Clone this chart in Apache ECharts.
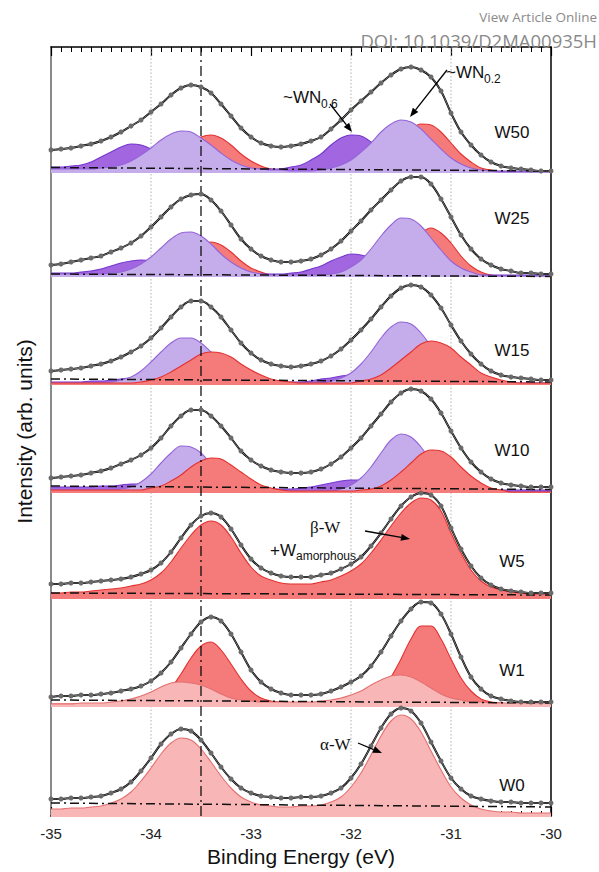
<!DOCTYPE html>
<html><head><meta charset="utf-8">
<script src="https://cdn.jsdelivr.net/npm/echarts@6/dist/echarts.min.js"></script>
<style>html,body{margin:0;padding:0;background:#fff;}#c{width:599px;height:872px;}</style>
</head><body><div id="c"></div>
<script>
// ---------------- DATA ----------------
const energy = [-35.0,-34.9,-34.8,-34.7,-34.6,-34.5,-34.4,-34.3,-34.2,-34.1,-34.0,-33.9,-33.8,-33.7,-33.6,-33.5,-33.4,-33.3,-33.2,-33.1,-33.0,-32.9,-32.8,-32.7,-32.6,-32.5,-32.4,-32.3,-32.2,-32.1,-32.0,-31.9,-31.8,-31.7,-31.6,-31.5,-31.4,-31.3,-31.2,-31.1,-31.0,-30.9,-30.8,-30.7,-30.6,-30.5,-30.4,-30.3,-30.2,-30.1,-30.0];
const panelNames = ['W50','W25','W15','W10','W5','W1','W0'];
const bgStart = [5.5, 3, 6, 7, 6, 7, 14];
const bgEnd   = [2, 0.5, 3, 3.5, 4, 4, 10];
const refDotted = [-34, -32, -31];
const refDashDot = [-33.5];

const W50_measured = [23,24,25,27,29,32,36,41,47,53,61,69,78,85,88,86,80,69,57,45,36,30,27,26,27,29,32,36,44,53,63,72,81,90,98,104,106,103,96,82,60,41,28,18,11,7,5,4,3,2,2];
const W50_wn06 = [6,6,7,8,11,16,21,26,29,28,24,18,13,9,7,5,4,4,4,4,4,4,4,4,6,8,13,19,28,35,38,37,31,22,15,9,6,4,3,3,3,3,3,2,2,2,2,2,2,2,2];
const W50_wn02 = [4,4,4,4,4,5,6,8,12,18,25,33,39,42,41,35,28,20,13,8,5,4,3,3,2,2,2,3,5,8,13,21,30,41,49,53,51,44,34,24,15,9,5,3,2,1,1,1,1,1,1];
const W50_beta = [3,3,3,3,3,3,3,3,3,4,5,9,14,22,30,36,38,35,28,19,12,7,4,2,1,1,1,1,1,1,2,4,7,13,23,34,44,49,48,41,30,19,11,5,3,1,1,1,1,1,1];

const W25_measured = [12,13,15,17,19,21,25,29,34,41,50,60,70,78,82,83,77,66,52,38,28,21,17,15,15,16,18,22,28,36,46,56,67,77,87,96,100,100,93,78,60,42,28,18,12,8,6,4,4,3,3];
const W25_wn06 = [4,4,4,5,6,8,11,14,16,17,16,13,10,7,5,4,4,4,3,3,3,3,3,3,4,5,8,11,16,20,23,22,19,14,10,6,4,3,3,3,3,2,2,2,2,2,2,2,2,2,2];
const W25_wn02 = [3,3,3,3,3,3,4,5,8,13,20,29,38,44,45,41,33,23,15,9,5,3,2,2,2,2,2,2,3,5,10,17,28,41,52,59,58,51,39,27,16,9,5,2,1,1,1,1,1,1,1];
const W25_beta = [2,2,2,2,2,2,2,2,2,2,3,5,9,16,25,32,35,32,25,16,9,5,2,1,1,1,1,1,1,1,1,1,3,6,12,22,34,44,49,44,34,21,11,5,2,1,1,1,1,1,1];

const W15_measured = [14,15,16,17,19,21,24,28,33,39,47,57,68,78,84,84,78,68,55,42,32,25,21,19,18,19,21,24,29,36,45,55,66,78,89,97,100,98,90,77,60,44,31,21,14,10,8,7,6,5,5];
const W15_wn06 = [3,3,3,3,4,4,5,6,7,7,7,6,5,4,3,3,3,3,3,3,3,3,3,3,3,3,4,6,7,9,10,10,9,7,6,4,3,2,2,2,2,2,2,2,2,2,2,2,2,2,2];
const W15_wn02 = [2,2,2,2,2,2,3,5,8,14,23,33,42,47,47,42,33,23,14,8,5,3,2,2,2,2,2,2,4,7,12,21,33,47,58,63,61,52,39,26,15,8,4,2,1,1,1,1,1,1,1];
const W15_beta = [2,2,2,2,2,2,2,2,2,3,5,8,13,19,25,31,33,32,28,21,15,10,6,4,3,2,2,2,2,2,2,4,6,10,17,25,33,41,44,42,37,28,20,12,8,5,3,2,2,2,2];

const W10_measured = [15,16,17,18,20,22,25,29,33,38,45,55,67,77,83,83,77,67,55,42,33,27,23,21,20,20,21,24,29,36,45,55,67,79,91,100,104,102,94,80,62,45,31,21,14,10,8,7,6,6,6];
const W10_wn06 = [6,6,6,6,6,7,7,8,9,9,8,8,7,6,5,5,5,5,5,5,5,4,4,4,4,5,6,8,10,12,13,13,11,9,7,5,4,3,3,3,3,3,3,3,3,3,3,3,3,3,3];
const W10_wn02 = [3,3,3,3,3,3,3,4,6,11,19,30,40,47,46,40,29,19,11,6,4,2,2,2,2,2,2,2,2,4,8,15,26,40,53,59,56,46,32,19,10,5,2,1,1,1,1,1,1,1,1];
const W10_beta = [3,3,3,3,3,3,3,3,3,3,5,7,12,18,26,32,35,34,28,21,14,8,5,3,2,2,2,2,2,2,2,3,4,7,13,21,30,39,43,42,36,26,17,10,5,3,1,1,1,1,1];

const W5_measured = [15,15,16,16,17,18,19,20,22,25,29,36,47,61,74,83,86,82,70,54,40,31,26,23,22,22,22,24,26,30,35,42,53,66,80,93,102,106,104,93,71,50,33,21,14,10,8,7,6,6,6];
const W5_beta = [6,6,7,7,8,9,10,11,13,15,19,26,37,51,64,74,78,74,62,46,32,23,19,16,15,15,15,17,19,23,28,35,46,59,73,86,96,101,99,88,66,46,29,18,12,9,7,6,5,5,5];

const W1_measured = [10,11,11,12,12,13,14,16,18,21,26,34,45,59,73,85,90,86,73,55,37,25,18,14,12,12,12,13,16,20,25,31,41,55,71,86,98,105,104,93,73,50,30,18,11,8,6,5,5,5,5];
const W1_beta = [3,3,3,3,3,3,3,3,4,4,6,10,19,33,49,61,65,57,43,28,16,9,6,5,4,4,4,4,4,4,5,6,9,16,30,48,68,81,81,68,48,29,16,8,5,4,3,3,3,3,3];
const W1_alpha = [3,3,3,4,4,4,5,6,8,11,15,20,24,25,24,22,18,13,9,7,6,5,5,5,5,5,5,6,7,9,12,16,22,27,31,32,30,25,19,13,9,7,5,5,4,4,4,4,4,4,4];

const W0_measured = [18,18,19,19,20,21,24,28,35,46,59,73,83,88,86,77,64,50,38,29,24,21,20,19,19,20,20,21,24,29,39,53,71,89,103,109,106,94,75,56,39,28,21,18,16,15,15,14,14,14,14];
const W0_alpha = [8,8,9,9,10,11,14,18,25,36,49,63,74,79,77,68,55,41,29,20,15,12,11,10,10,11,11,12,15,20,30,44,62,81,96,102,98,85,66,47,30,19,12,8,6,5,5,4,4,4,4];

// panels: component lists in drawing order (last = on top)
const panels = [
  {measured: W50_measured, comps: [['beta', W50_beta], ['wn06', W50_wn06], ['wn02', W50_wn02]]},
  {measured: W25_measured, comps: [['beta', W25_beta], ['wn06', W25_wn06], ['wn02', W25_wn02]]},
  {measured: W15_measured, comps: [['wn06', W15_wn06], ['wn02', W15_wn02], ['beta', W15_beta]]},
  {measured: W10_measured, comps: [['wn06', W10_wn06], ['wn02', W10_wn02], ['beta', W10_beta]]},
  {measured: W5_measured,  comps: [['beta', W5_beta]]},
  {measured: W1_measured,  comps: [['beta', W1_beta], ['alpha', W1_alpha]]},
  {measured: W0_measured,  comps: [['alpha', W0_alpha]]}
];

// ---------------- STYLE / LAYOUT ----------------
const compStyle = {
  wn06: {fill: '#a266e0', line: '#7436cf'},
  wn02: {fill: '#c5acea', line: '#9464d9'},
  beta: {fill: '#f57a7a', line: '#e2312f'},
  alpha:{fill: '#f8b6b6', line: '#e46f6f'}
};
const panelTop = [47, 173, 277, 385, 493, 599, 707];
const panelH   = [126, 104, 108, 108, 106, 108, 110];
const GL = 51, GR = 48;
const SANS = "'Liberation Sans', Arial, sans-serif";
const SERIF = "'Liberation Serif', 'Times New Roman', serif";

const grids = [], xAxes = [], yAxes = [], series = [];
panels.forEach((p, k) => {
  grids.push({left: GL, right: GR, top: panelTop[k], height: panelH[k], show: false});
  xAxes.push({gridIndex: k, type: 'value', min: -35, max: -30, show: false});
  yAxes.push({gridIndex: k, type: 'value', min: 0, max: panelH[k], show: false});
  p.comps.forEach(([kind, vals], j) => {
    const st = compStyle[kind];
    series.push({type: 'line', xAxisIndex: k, yAxisIndex: k, silent: true,
      data: energy.map((e, i) => [e, vals[i]]), smooth: 0.35, symbol: 'none',
      lineStyle: {color: st.line, width: 1.1}, areaStyle: {color: st.fill, opacity: 1}, z: 2 + j});
  });
  series.push({type: 'line', xAxisIndex: k, yAxisIndex: k, silent: true,
    data: [[-35, bgStart[k]], [-30, bgEnd[k]]], symbol: 'none',
    lineStyle: {color: '#111', width: 1.5, type: [9, 4, 2, 4]}, z: 7});
  series.push({type: 'line', xAxisIndex: k, yAxisIndex: k, silent: true,
    data: energy.map((e, i) => [e, p.measured[i]]), smooth: 0.35, symbol: 'none',
    lineStyle: {color: '#000', width: 2}, z: 8});
  series.push({type: 'line', xAxisIndex: k, yAxisIndex: k, silent: true,
    data: energy.map((e, i) => [e, p.measured[i]]), smooth: 0.35, symbol: 'circle', symbolSize: 5,
    itemStyle: {color: '#6a6a6a'}, lineStyle: {color: '#707070', width: 1}, z: 9});
});

// overlay grid for frame, ticks and reference lines
const OG = 7;
grids.push({left: GL, right: GR, top: panelTop[0], height: 770, show: false});
const tickCommon = {
  axisTick: {show: true, inside: true, length: 9, lineStyle: {color: '#000', width: 1.2}},
  minorTick: {show: true, splitNumber: 10, length: 5, lineStyle: {color: '#000', width: 1}},
  splitLine: {show: false}, minorSplitLine: {show: false}
};
xAxes.push(Object.assign({gridIndex: OG, type: 'value', position: 'top', min: -35, max: -30, interval: 1,
  axisLine: {show: true, onZero: false, lineStyle: {color: '#000', width: 1.5}},
  axisLabel: {show: false}}, tickCommon));
xAxes.push(Object.assign({gridIndex: OG, type: 'value', position: 'bottom', min: -35, max: -30, interval: 1,
  axisLine: {show: true, onZero: false, lineStyle: {color: '#000', width: 1.5}},
  axisLabel: {show: true, fontSize: 15, color: '#222', fontFamily: SANS, margin: 10},
  name: 'Binding Energy (eV)', nameLocation: 'middle', nameGap: 30,
  nameTextStyle: {fontSize: 21, color: '#111', fontFamily: SANS}}, tickCommon));
yAxes.push({gridIndex: OG, type: 'value', position: 'left', min: 0, max: 1,
  axisLine: {show: true, onZero: false, lineStyle: {color: '#8a8a8a', width: 2}},
  axisTick: {show: false}, axisLabel: {show: false}, splitLine: {show: false},
  name: 'Intensity (arb. units)', nameLocation: 'middle', nameGap: 16, nameRotate: 90,
  nameTextStyle: {fontSize: 21, color: '#111', fontFamily: SANS}});
yAxes.push({gridIndex: OG, type: 'value', position: 'right', min: 0, max: 1,
  axisLine: {show: true, onZero: false, lineStyle: {color: '#000', width: 1.5}},
  axisTick: {show: false}, axisLabel: {show: false}, splitLine: {show: false}});

refDotted.forEach(x => series.push({type: 'line', xAxisIndex: 8, yAxisIndex: 7, silent: true,
  data: [[x, 0], [x, 1]], symbol: 'none', lineStyle: {color: '#b0b0b0', width: 1, type: [1.5, 2]}, z: 1}));
refDashDot.forEach(x => series.push({type: 'line', xAxisIndex: 8, yAxisIndex: 7, silent: true,
  data: [[x, 0], [x, 1]], symbol: 'none', lineStyle: {color: '#000', width: 1.2, type: [10, 4, 2, 4]}, z: 6}));

// texts and arrows
const labelY = [132, 218, 350, 450, 561, 670, 785];
const graphics = [];
function txt(s, x, y, size, family, opts) {
  graphics.push({type: 'text', x: x, y: y, z: 100, silent: true,
    style: Object.assign({text: s, fontSize: size, fontFamily: family, fill: '#111',
      align: 'left', verticalAlign: 'middle', textAlign: 'left', textVerticalAlign: 'middle'}, opts || {})});
}
panelNames.forEach((n, k) => txt(n, 512, labelY[k], 17, SANS, {align: 'center', textAlign: 'center'}));
txt('~WN', 283, 97, 17, SANS);
txt('0.6', 321, 104, 12, SANS);
txt('~WN', 446, 72, 17, SANS);
txt('0.2', 484, 79, 12, SANS);
txt('\u03B2-W', 310, 527, 17, SERIF);
txt('+W', 270, 550, 17, SANS);
txt('amorphous', 296, 556, 12, SANS);
txt('\u03B1-W', 320, 744, 17, SERIF);
txt('View Article Online', 597, 17, 13.5, "'Open Sans', sans-serif", {fill: '#8a8a8a', align: 'right', textAlign: 'right'});
txt('DOI: 10.1039/D2MA00935H', 597, 40, 18.5, "'Open Sans', sans-serif", {fill: '#8a8a8a', align: 'right', textAlign: 'right'});

const arrows = [[330, 104, 352, 132], [447, 70, 410, 117], [365, 531, 410, 539], [358, 743, 382, 753]];
arrows.forEach(([x1, y1, x2, y2]) => {
  const a = Math.atan2(y2 - y1, x2 - x1), L = 9, W = 3.5;
  const bx = x2 - L * Math.cos(a), by = y2 - L * Math.sin(a);
  graphics.push({type: 'line', z: 100, silent: true, shape: {x1: x1, y1: y1, x2: bx, y2: by},
    style: {stroke: '#000', lineWidth: 1.3}});
  graphics.push({type: 'polygon', z: 100, silent: true, shape: {points: [[x2, y2],
    [bx + W * Math.sin(a), by - W * Math.cos(a)], [bx - W * Math.sin(a), by + W * Math.cos(a)]]},
    style: {fill: '#000'}});
});

const chart = echarts.init(document.getElementById('c'), null, {renderer: 'svg'});
chart.setOption({
  animation: false,
  backgroundColor: '#fff',
  grid: grids, xAxis: xAxes, yAxis: yAxes, series: series, graphic: graphics
});
</script></body></html>
